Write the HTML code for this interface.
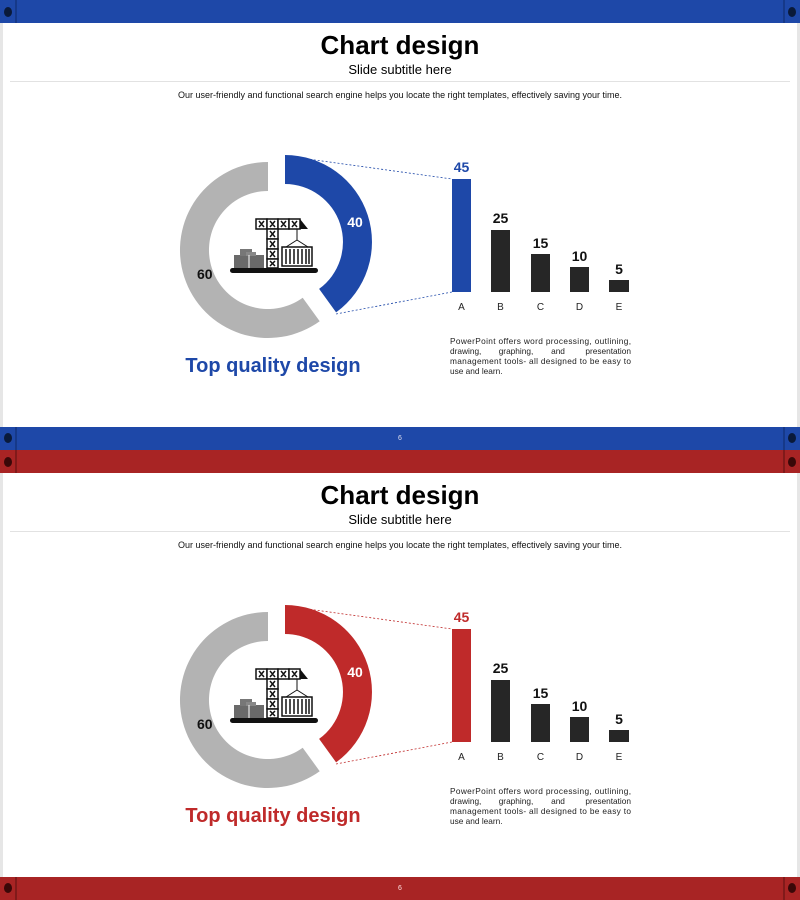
<!DOCTYPE html>
<html><head><meta charset="utf-8"><style>
html,body{margin:0;padding:0;background:#fff;}
svg{display:block;font-family:"Liberation Sans",sans-serif;}
</style></head><body>
<svg width="800" height="900" viewBox="0 0 800 900" xmlns="http://www.w3.org/2000/svg">
<defs>
<g id="icon">
  <rect x="234" y="255" width="30" height="13" fill="#6a6a6a"/>
  <rect x="240" y="249" width="12" height="7" fill="#777"/>
  <rect x="246" y="252" width="10" height="4" fill="#888"/>
  <line x1="249" y1="255" x2="249" y2="268" stroke="#fff" stroke-width="1"/>
  <rect x="230" y="268" width="88" height="5" rx="2.5" fill="#111"/>
  <g fill="#fff" stroke="#111" stroke-width="1.5">
    <rect x="256" y="219" width="11" height="10"/><rect x="267" y="219" width="11" height="10"/>
    <rect x="278" y="219" width="11" height="10"/><rect x="289" y="219" width="11" height="10"/>
    <rect x="267" y="229" width="11" height="10"/><rect x="267" y="239" width="11" height="10"/>
    <rect x="267" y="249" width="11" height="10"/><rect x="267" y="259" width="11" height="9"/>
  </g>
  <g stroke="#111" stroke-width="1.5">
    <path d="M259 221l5 6M264 221l-5 6M270 221l5 6M275 221l-5 6M281 221l5 6M286 221l-5 6M292 221l5 6M297 221l-5 6"/>
    <path d="M270 231l5 6M275 231l-5 6M270 241l5 6M275 241l-5 6M270 251l5 6M275 251l-5 6M270 261l5 5M275 261l-5 5"/>
  </g>
  <polygon points="300,219 300,229 308,229" fill="#111"/>
  <line x1="297" y1="229" x2="297" y2="240" stroke="#111"/>
  <path d="M297 240 L286 247 M297 240 L308 247" stroke="#111" fill="none"/>
  <rect x="282" y="247" width="30" height="19" fill="#fff" stroke="#111" stroke-width="1.5"/>
  <path d="M286 249v15M290 249v15M294 249v15M298 249v15M302 249v15M306 249v15M309 249v15" stroke="#111" stroke-width="1.5"/>
</g>
<g id="slide-common">
  <rect x="0" y="23" width="800" height="404" fill="#fff"/>
  <text x="400" y="54" text-anchor="middle" font-size="26" font-weight="bold" fill="#000">Chart design</text>
  <text x="400" y="74" text-anchor="middle" font-size="13" fill="#000">Slide subtitle here</text>
  <line x1="10" y1="81.5" x2="790" y2="81.5" stroke="#e2e2e2" stroke-width="1"/>
  <text x="400" y="98" text-anchor="middle" font-size="9" fill="#111">Our user-friendly and functional search engine helps you locate the right templates, effectively saving your time.</text>
  <path d="M319.7 321.2 A88 88 0 1 1 268 162 L268 191 A59 59 0 1 0 302.7 297.7 Z" fill="#b3b3b3"/>
  <text x="197" y="279" font-size="14" font-weight="bold" fill="#111">60</text>
  <use href="#icon"/>
  <rect x="491" y="230" width="19" height="62" fill="#262626"/>
  <rect x="531" y="254" width="19" height="38" fill="#262626"/>
  <rect x="570" y="267" width="19" height="25" fill="#262626"/>
  <rect x="609" y="280" width="20" height="12" fill="#262626"/>
  <g font-size="14" font-weight="bold" fill="#111" text-anchor="middle">
    <text x="500.5" y="223">25</text><text x="540.5" y="248">15</text>
    <text x="579.5" y="261">10</text><text x="619" y="274">5</text>
  </g>
  <g font-size="10" fill="#222" text-anchor="middle">
    <text x="461.5" y="310">A</text><text x="500.5" y="310">B</text><text x="540.5" y="310">C</text>
    <text x="579.5" y="310">D</text><text x="619" y="310">E</text>
  </g>
  <g font-size="8.3" fill="#222">
    <text x="450" y="344" textLength="181" lengthAdjust="spacing">PowerPoint offers word processing, outlining,</text>
    <text x="450" y="354">drawing,</text>
    <text x="516" y="354" text-anchor="middle">graphing,</text>
    <text x="558" y="354" text-anchor="middle">and</text>
    <text x="631" y="354" text-anchor="end">presentation</text>
    <text x="450" y="364" textLength="181" lengthAdjust="spacing">management tools- all designed to be easy to</text>
    <text x="450" y="374">use and learn.</text>
  </g>
  <rect x="0" y="0" width="3" height="450" fill="#e6e6e6"/>
  <rect x="797" y="0" width="3" height="450" fill="#e6e6e6"/>
</g>
</defs>

<g>
  <use href="#slide-common"/>
  <rect x="0" y="0" width="800" height="23" fill="#1e48a8"/>
  <rect x="0" y="427" width="800" height="23" fill="#1e48a8"/>
  <line x1="16" y1="0" x2="16" y2="23" stroke="#0e2a6a"/><line x1="784" y1="0" x2="784" y2="23" stroke="#0e2a6a"/>
  <line x1="16" y1="427" x2="16" y2="450" stroke="#0e2a6a"/><line x1="784" y1="427" x2="784" y2="450" stroke="#0e2a6a"/>
  <ellipse cx="8" cy="12" rx="4" ry="5" fill="#0a1a3a"/><ellipse cx="792" cy="12" rx="4" ry="5" fill="#0a1a3a"/>
  <ellipse cx="8" cy="438" rx="4" ry="5" fill="#0a1a3a"/><ellipse cx="792" cy="438" rx="4" ry="5" fill="#0a1a3a"/>
  <text x="400" y="440" text-anchor="middle" font-size="7" fill="#dde">6</text>
  <path d="M285 155 A87 87 0 0 1 336.1 312.4 L319.1 288.9 A58 58 0 0 0 285 184 Z" fill="#1e48a8"/>
  <text x="355" y="227" text-anchor="middle" font-size="14" font-weight="bold" fill="#fff">40</text>
  <line x1="286" y1="156" x2="452" y2="179" stroke="#1e48a8" stroke-width="0.8" stroke-dasharray="2,2"/>
  <line x1="336" y1="314" x2="452" y2="292" stroke="#1e48a8" stroke-width="0.8" stroke-dasharray="2,2"/>
  <rect x="452" y="179" width="19" height="113" fill="#1e48a8"/>
  <text x="461.5" y="172" text-anchor="middle" font-size="14" font-weight="bold" fill="#1e48a8">45</text>
  <text x="273" y="372" text-anchor="middle" font-size="20" font-weight="bold" fill="#1e48a8">Top quality design</text>
</g>

<g transform="translate(0,450)">
  <use href="#slide-common"/>
  <rect x="0" y="0" width="800" height="23" fill="#a82424"/>
  <rect x="0" y="427" width="800" height="23" fill="#a82424"/>
  <line x1="16" y1="0" x2="16" y2="23" stroke="#5a1010"/><line x1="784" y1="0" x2="784" y2="23" stroke="#5a1010"/>
  <line x1="16" y1="427" x2="16" y2="450" stroke="#5a1010"/><line x1="784" y1="427" x2="784" y2="450" stroke="#5a1010"/>
  <ellipse cx="8" cy="12" rx="4" ry="5" fill="#3a0808"/><ellipse cx="792" cy="12" rx="4" ry="5" fill="#3a0808"/>
  <ellipse cx="8" cy="438" rx="4" ry="5" fill="#3a0808"/><ellipse cx="792" cy="438" rx="4" ry="5" fill="#3a0808"/>
  <text x="400" y="440" text-anchor="middle" font-size="7" fill="#fdd">6</text>
  <path d="M285 155 A87 87 0 0 1 336.1 312.4 L319.1 288.9 A58 58 0 0 0 285 184 Z" fill="#bf2a2a"/>
  <text x="355" y="227" text-anchor="middle" font-size="14" font-weight="bold" fill="#fff">40</text>
  <line x1="286" y1="156" x2="452" y2="179" stroke="#bf2a2a" stroke-width="0.8" stroke-dasharray="2,2"/>
  <line x1="336" y1="314" x2="452" y2="292" stroke="#bf2a2a" stroke-width="0.8" stroke-dasharray="2,2"/>
  <rect x="452" y="179" width="19" height="113" fill="#bf2a2a"/>
  <text x="461.5" y="172" text-anchor="middle" font-size="14" font-weight="bold" fill="#bf2a2a">45</text>
  <text x="273" y="372" text-anchor="middle" font-size="20" font-weight="bold" fill="#bf2a2a">Top quality design</text>
</g>
</svg>
</body></html>
